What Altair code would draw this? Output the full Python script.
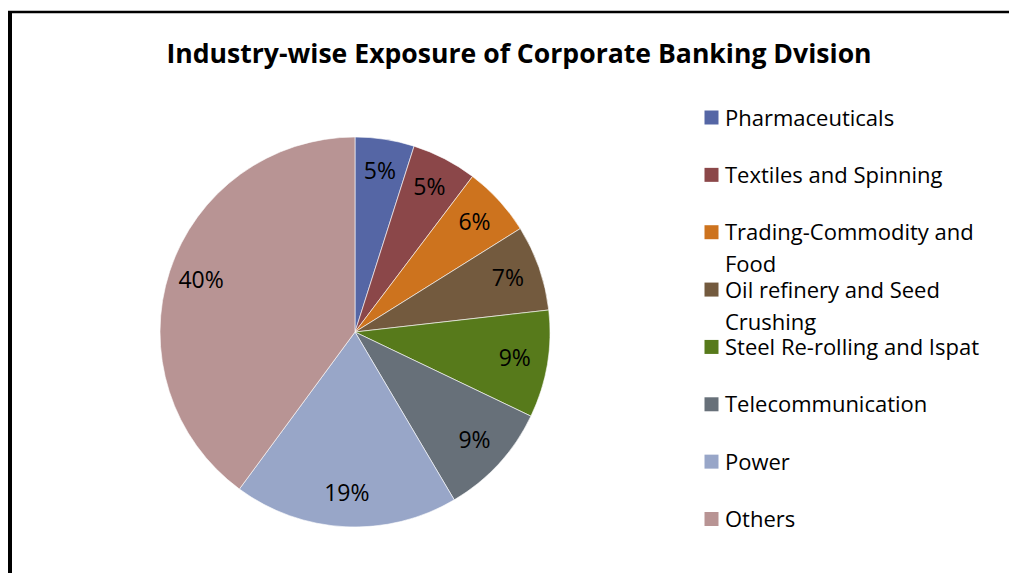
import altair as alt
import pandas as pd

categories = [
    "Pharmaceuticals",
    "Textiles and Spinning",
    "Trading-Commodity and Food",
    "Oil refinery and Seed Crushing",
    "Steel Re-rolling and Ispat",
    "Telecommunication",
    "Power",
    "Others",
]
legend_text = [
    "Pharmaceuticals",
    "Textiles and Spinning",
    "Trading-Commodity and\nFood",
    "Oil refinery and Seed\nCrushing",
    "Steel Re-rolling and Ispat",
    "Telecommunication",
    "Power",
    "Others",
]
values = [4.9, 5.4, 5.8, 7.1, 8.9, 9.4, 18.6, 39.9]
colors = ["#5566A5", "#8B4749", "#CD731E", "#735A3E", "#577A1B", "#677079", "#98A6C8", "#B89494"]
title_text = "Industry-wise Exposure of Corporate Banking Dvision"

df = pd.DataFrame({
    "cat": categories,
    "legend": legend_text,
    "value": values,
    "order": list(range(len(categories))),
    "label": [f"{v:.0f}%" for v in values],
})

FONT = "Open Sans"
CX, CY = 347, 324

color = alt.Color("cat:N", scale=alt.Scale(domain=categories, range=colors), legend=None)

base = alt.Chart(df)

pie = base.mark_arc(outerRadius=195, stroke="#ffffff", strokeWidth=0.6).encode(
    theta=alt.Theta("value:Q", stack=True),
    order=alt.Order("order:Q"),
    color=color,
    x=alt.value(CX),
    y=alt.value(CY),
)

labels = base.mark_text(radius=162, font=FONT, fontSize=23, color="#000000",
                        align="center", baseline="middle").encode(
    theta=alt.Theta("value:Q", stack=True),
    order=alt.Order("order:Q"),
    text="label:N",
    x=alt.value(CX),
    y=alt.value(CY),
)

ypos = alt.Y("cat:N", scale=alt.Scale(type="point", domain=categories, range=[109.5, 511], padding=0), axis=None)

leg_sym = base.mark_square(size=196, opacity=1).encode(
    x=alt.value(703.5),
    y=ypos,
    color=color,
)

leg_txt = base.mark_text(font=FONT, fontSize=22, align="left", baseline="alphabetic",
                         dy=8, lineBreak="\n", lineHeight=32, color="#000000").encode(
    x=alt.value(717),
    y=ypos,
    text="legend:N",
)

title = alt.Chart(pd.DataFrame({"t": [title_text]})).mark_text(
    font=FONT, fontSize=26.6, fontWeight="bold", align="center", baseline="alphabetic", color="#000000"
).encode(x=alt.value(511), y=alt.value(55), text="t:N")

left_border = alt.Chart(pd.DataFrame({"a": [0]})).mark_rule(color="#000000", strokeWidth=4).encode(
    x=alt.value(2), y=alt.value(3), y2=alt.value(565)
)
top_border = alt.Chart(pd.DataFrame({"a": [0]})).mark_rule(color="#000000", strokeWidth=2.5).encode(
    x=alt.value(0), x2=alt.value(1001), y=alt.value(4)
)

chart = alt.layer(pie, labels, leg_sym, leg_txt, title, left_border, top_border).properties(
    width=1001, height=565, autosize=alt.AutoSizeParams(type="none"), padding=0,
    background="#ffffff",
).configure_view(stroke=None)

chart.save("out.html", embed_options={"renderer": "svg", "actions": False})
